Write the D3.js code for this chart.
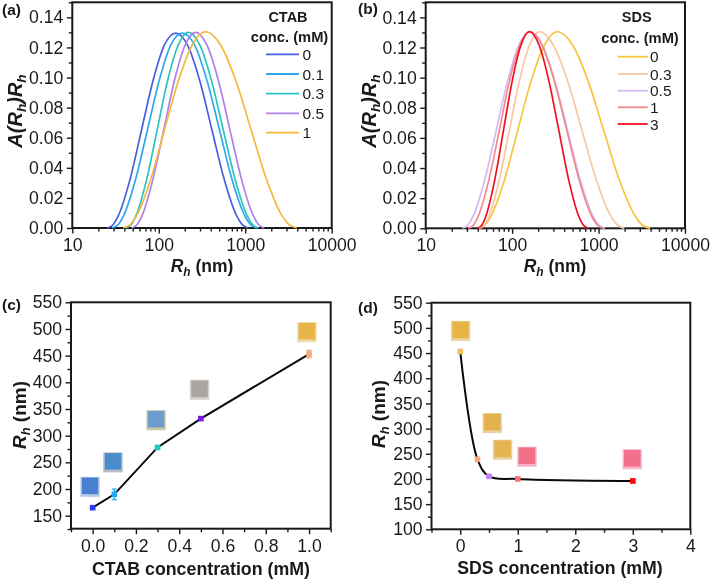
<!DOCTYPE html>
<html><head><meta charset="utf-8">
<script src="https://cdn.jsdelivr.net/npm/d3@7"></script>
<style>
html,body{margin:0;padding:0;background:#fff}
svg{display:block;filter:blur(0.45px)}
text{font-family:"Liberation Sans",Arial,sans-serif;fill:#1a1a1a}
</style></head><body>
<svg id="c" width="710" height="581"></svg>
<script>
// ---------- panel (a): CTAB size distributions
const ctabLabels = ["0","0.1","0.3","0.5","1"];
const ctabColors = ["#4a5fe0","#2fa8f0","#2cc4c0","#b080e8","#f5b93a"];
const ctabR0 = [25.4,29.6,34.4,46.6,63.1,85.5,115.6,157,216,299,413,570,787,924,1086];
const ctabR1 = [29.0,33.9,39.6,54.1,73.8,100.7,137,187.5,261,363,505,701,977,1152,1358];
const ctabR2 = [41.7,47.9,55,72.6,95.7,126,167,220,300,409,558,762,1040,1215,1419];
const ctabR3 = [48.5,56,64.6,85.7,114,151,201,267,362,492,667,904,1227,1428,1663];
const ctabR4 = [38.9,46.7,56.1,80.9,116,168,242,349,522,783,1172,1758,2630,3217,3936];
const ctabA0 = [0,.0022,.0087,.0325,.065,.0975,.1213,.1295,.1213,.0975,.065,.0325,.0087,.0022,0];
const ctabA1 = [0,.0022,.0087,.0325,.065,.0975,.1213,.1295,.1213,.0975,.065,.0325,.0087,.0022,0];
const ctabA2 = [0,.0022,.0087,.0325,.065,.0975,.1213,.13,.1213,.0975,.065,.0325,.0087,.0022,0];
const ctabA3 = [0,.0022,.0087,.0325,.065,.0975,.1213,.13,.1213,.0975,.065,.0325,.0087,.0022,0];
const ctabA4 = [0,.0022,.0087,.0325,.065,.0975,.1213,.1305,.1213,.0975,.065,.0325,.0087,.0022,0];
// ---------- panel (b): SDS size distributions
const sdsLabels = ["0","0.3","0.5","1","3"];
const sdsColors = ["#f7c53c","#f5c8a0","#d8b8f5","#f08a8a","#f01020"];
const sdsR0 = [40.6,48.4,57.7,82,116,165,235,333,504,760,1146,1730,2612,3206,3936];
const sdsR1 = [41.7,47.7,54.5,71.1,92.9,121,158,207,301,440,643,938,1368,1652,1995];
const sdsR2 = [26.5,30.8,35.9,48.4,65.5,88.3,119,161,225,313,438,611,851,1006,1189];
const sdsR3 = [31.2,35.8,41,54,71,93,122.5,161,223,309,429,593,822,967,1138];
const sdsR4 = [39.8,44.7,50.1,63.1,79.4,100,126,158,206,267,347,450,584,666,759];
const sdsA0 = [0,.0022,.0087,.0325,.065,.0975,.1213,.1305,.1213,.0975,.065,.0325,.0087,.0022,0];
const sdsA1 = [0,.0022,.0087,.0325,.065,.0975,.1213,.1305,.1213,.0975,.065,.0325,.0087,.0022,0];
const sdsA2 = [0,.0022,.0087,.0325,.065,.0975,.1213,.1305,.1213,.0975,.065,.0325,.0087,.0022,0];
const sdsA3 = [0,.0022,.0087,.0325,.065,.0975,.1213,.1305,.1213,.0975,.065,.0325,.0087,.0022,0];
const sdsA4 = [0,.0022,.0087,.0325,.065,.0975,.1213,.1305,.1213,.0975,.065,.0325,.0087,.0022,0];
// ---------- panel (c): Rh vs CTAB
const ctabConc = [0,0.1,0.3,0.5,1];
const ctabRh = [165,190,278,332,453];
const ctabErr = [3,10,3,3,7];
const ctabDot = ["#2a3de8","#22a8f5","#1cc8c0","#7a18d8","#f5a878"];
const ctabSwX = [-0.012,0.094,0.293,0.494,0.99];
const ctabSwY = [204,250,329,386,494];
const ctabSwIn = ["#4a80d4","#4a8ccc","#6e9ccc","#aaa5a2","#e9b548"];
const ctabSwOut = ["#b8cbe4","#b5bfc5","#cfc8a8","#d8cfc8","#ecd9ae"];
// ---------- panel (d): Rh vs SDS
const sdsConc = [0,0.3,0.5,1,3];
const sdsRh = [453,239,205,200,196];
const sdsErr = [3,3,3,3,3];
const sdsDot = ["#f0c060","#f5a878","#c080f8","#f87070","#f00a0a"];
const sdsSwX = [0.006,0.556,0.736,1.16,2.99];
const sdsSwY = [494,311,258,244,239];
const sdsSwIn = ["#e8b545","#e3b24e","#e5b552","#f27088","#f36f8c"];
const sdsSwOut = ["#ecd2a0","#e8d2a0","#e8d2a0","#f5b8c4","#f5b8c4"];
// ---------- axis ticks
const logMajor = [10,100,1000,10000];
const logMinor = [20,30,40,50,60,70,80,90,200,300,400,500,600,700,800,900,2000,3000,4000,5000,6000,7000,8000,9000];
const distMajor = [0,.02,.04,.06,.08,.10,.12,.14];
const distMinor = [.01,.03,.05,.07,.09,.11,.13,.15];
const rhMajorC = [150,200,250,300,350,400,450,500,550];
const rhMinorC = [125,175,225,275,325,375,425,475,525];
const concMajorC = [0,.2,.4,.6,.8,1];
const concMinorC = [-.1,.1,.3,.5,.7,.9,1.1];
const rhMajorD = [100,150,200,250,300,350,400,450,500,550];
const rhMinorD = [125,175,225,275,325,375,425,475,525];
const concMajorD = [0,1,2,3,4];
const concMinorD = [-.5,.5,1.5,2.5,3.5];

const svg = d3.select("#c");
const INK = "#1a1a1a";
const TICK = 17.6;

function frame(box, xs, ys, xMaj, xMin, yMaj, yMin, xf, yf){
  const g = svg.append("g");
  g.append("g").attr("transform",`translate(0,${box.b})`)
    .call(d3.axisBottom(xs).tickValues(xMaj).tickFormat(xf).tickSize(5.5).tickPadding(5));
  g.append("g").attr("transform",`translate(${box.l},0)`)
    .call(d3.axisLeft(ys).tickValues(yMaj).tickFormat(yf).tickSize(5.5).tickPadding(3.5));
  g.append("g").attr("transform",`translate(0,${box.b})`)
    .call(d3.axisBottom(xs).tickValues(xMin).tickFormat("").tickSize(3.5)).select(".domain").remove();
  g.append("g").attr("transform",`translate(${box.l},0)`)
    .call(d3.axisLeft(ys).tickValues(yMin).tickFormat("").tickSize(3.5)).select(".domain").remove();
  g.selectAll(".domain").remove();
  g.selectAll("line").attr("stroke",INK).attr("stroke-width",1.4);
  g.selectAll("text").attr("font-size",TICK).attr("fill",INK).style("font-family",'"Liberation Sans",Arial,sans-serif');
  svg.append("rect").attr("x",box.l).attr("y",box.t).attr("width",box.r-box.l).attr("height",box.b-box.t)
    .attr("fill","none").attr("stroke",INK).attr("stroke-width",2);
}
function subLabel(cx, cy, rot, parts, size){
  const t = svg.append("text").attr("text-anchor","middle").attr("font-weight","bold")
    .attr("font-size",size).attr("transform",`translate(${cx},${cy}) rotate(${rot})`);
  parts.forEach(p=>{
    t.append("tspan").text(p[0]).attr("font-style",p[1]?"italic":"normal")
      .attr("font-size",p[2]?size*0.68:size).attr("dy",p[2]?size*0.22:(p[3]?-size*0.22:0));
  });
}
function plain(x,y,s,size,anchor,bold){
  svg.append("text").attr("x",x).attr("y",y).attr("font-size",size)
    .attr("text-anchor",anchor||"start").attr("font-weight",bold?"bold":"normal").text(s);
}
function distPanel(box, R, A, colors, labels, leg){
  const x = d3.scaleLog().domain([10,10000]).range([box.l,box.r]);
  const y = d3.scaleLinear().domain([0,0.15]).range([box.b,box.t]);
  frame(box,x,y,logMajor,logMinor,distMajor,distMinor,d3.format("d"),d3.format(".2f"));
  const line = d3.line().x(d=>x(d[0])).y(d=>y(d[1])).curve(d3.curveMonotoneX);
  R.forEach((r,i)=>{
    svg.append("path").attr("d",line(r.map((v,j)=>[v,A[i][j]])))
      .attr("fill","none").attr("stroke",colors[i]).attr("stroke-width",1.7);
  });
  labels.forEach((s,i)=>{
    svg.append("line").attr("x1",leg.x1).attr("x2",leg.x2).attr("y1",leg.y[i]).attr("y2",leg.y[i])
      .attr("stroke",colors[i]).attr("stroke-width",1.8);
    plain(leg.tx,leg.y[i]+5.5,s,15.5);
  });
}
function scatterPanel(box, xd, yd, xMaj, xMin, yMaj, yMin, xf, cx, cy, err, dots, swX, swY, swIn, swOut, curve){
  const x = d3.scaleLinear().domain(xd).range([box.l,box.r]);
  const y = d3.scaleLinear().domain(yd).range([box.b,box.t]);
  frame(box,x,y,xMaj,xMin,yMaj,yMin,xf,d3.format("d"));
  swX.forEach((v,i)=>{
    const px=x(v), py=y(swY[i]);
    svg.append("rect").attr("x",px-9.7).attr("y",py-10).attr("width",19.4).attr("height",20).attr("fill",swOut[i]);
    svg.append("rect").attr("x",px-8.2).attr("y",py-9.3).attr("width",16.4).attr("height",16.6).attr("fill",swIn[i]);
  });
  const line = d3.line().x((d,i)=>x(cx[i])).y((d,i)=>y(cy[i])).curve(curve);
  svg.append("path").attr("d",line(cx)).attr("fill","none").attr("stroke","#0a0a0a").attr("stroke-width",2);
  cx.forEach((v,i)=>{
    const px=x(v);
    svg.append("line").attr("x1",px).attr("x2",px).attr("y1",y(cy[i]-err[i])).attr("y2",y(cy[i]+err[i]))
      .attr("stroke",dots[i]).attr("stroke-width",1.5);
    [cy[i]-err[i],cy[i]+err[i]].forEach(e=>svg.append("line").attr("x1",px-2.5).attr("x2",px+2.5)
      .attr("y1",y(e)).attr("y2",y(e)).attr("stroke",dots[i]).attr("stroke-width",1.2));
    svg.append("rect").attr("x",px-2.8).attr("y",y(cy[i])-2.8).attr("width",5.6).attr("height",5.6).attr("fill",dots[i]);
  });
}

// (a)
distPanel({l:72.3,r:331.7,t:2.3,b:228},
  [ctabR0,ctabR1,ctabR2,ctabR3,ctabR4],[ctabA0,ctabA1,ctabA2,ctabA3,ctabA4],ctabColors,ctabLabels,
  {x1:266,x2:299,tx:302.5,y:[54.3,74,93.7,113.3,132.7]});
plain(288,21.7,"CTAB",14.5,"middle",true);
plain(289.5,42,"conc. (mM)",14.7,"middle",true);
plain(2,15,"(a)",15.5,"start",true);
subLabel(202,272,0,[["R",1],["h",1,1],[" (nm)",0,0,1]],17.5);
subLabel(22,111,-90,[["A",1],["(",1],["R",1],["h",1,1],[")",1,0,1],["R",1],["h",1,1]],20);

// (b)
distPanel({l:425.7,r:685,t:2.3,b:228.3},
  [sdsR0,sdsR1,sdsR2,sdsR3,sdsR4],[sdsA0,sdsA1,sdsA2,sdsA3,sdsA4],sdsColors,sdsLabels,
  {x1:617.7,x2:647.7,tx:650,y:[56.7,74,90.7,107.3,124]});
plain(636.7,22.3,"SDS",14.5,"middle",true);
plain(640,42.7,"conc. (mM)",14.7,"middle",true);
plain(358,14,"(b)",15.5,"start",true);
subLabel(555,272,0,[["R",1],["h",1,1],[" (nm)",0,0,1]],17.5);
subLabel(376,111,-90,[["A",1],["(",1],["R",1],["h",1,1],[")",1,0,1],["R",1],["h",1,1]],20);

// (c)
scatterPanel({l:71,r:330.7,t:302.3,b:528.7},[-0.1,1.1],[125.6,550],
  concMajorC,concMinorC,rhMajorC,rhMinorC,d3.format(".1f"),
  ctabConc,ctabRh,ctabErr,ctabDot,ctabSwX,ctabSwY,ctabSwIn,ctabSwOut,d3.curveLinear);
plain(2,310,"(c)",15.5,"start",true);
plain(201,575,"CTAB concentration (mM)",17.8,"middle",true);
subLabel(26,415,-90,[["R",1],["h",1,1],[" (nm)",0,0,1]],19);

// (d)
scatterPanel({l:431.5,r:690.3,t:302.7,b:529.3},[-0.5,4],[100,550],
  concMajorD,concMinorD,rhMajorD,rhMinorD,d3.format("d"),
  sdsConc,sdsRh,sdsErr,sdsDot,sdsSwX,sdsSwY,sdsSwIn,sdsSwOut,d3.curveCatmullRom.alpha(0.5));
plain(358,313,"(d)",15.5,"start",true);
plain(560,574,"SDS concentration (mM)",17.7,"middle",true);
subLabel(385,414,-90,[["R",1],["h",1,1],[" (nm)",0,0,1]],19);
</script>
</body></html>
